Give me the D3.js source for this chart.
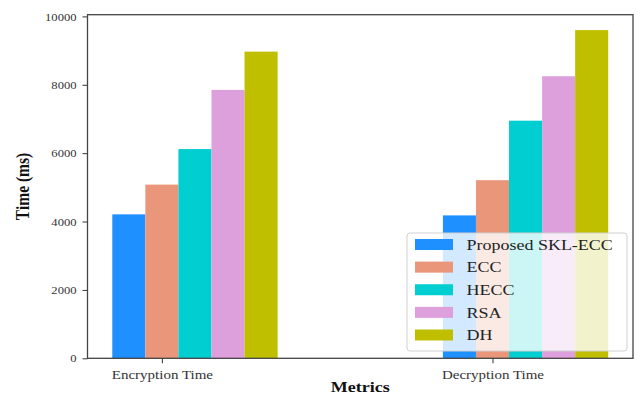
<!DOCTYPE html>
<html>
<head>
<meta charset="utf-8">
<script src="https://cdn.jsdelivr.net/npm/d3@7"></script>
<style>
  html, body { margin: 0; padding: 0; background: #fff; }
  svg { display: block; }
  text { font-family: "Liberation Serif", "Times New Roman", serif; }
</style>
</head>
<body>
<script>
// Execution time (ms) per scheme, for each metric
const metrics = ["Encryption Time", "Decryption Time"];
const schemes = ["Proposed SKL-ECC", "ECC", "HECC", "RSA", "DH"];
const colors = ["#1E90FF", "#E9967A", "#00CED1", "#DDA0DD", "#BFBF00"];
const proposedSklEcc = [4210, 4180];
const ecc = [5080, 5210];
const hecc = [6120, 6950];
const rsa = [7850, 8250];
const dh = [8970, 9600];
const yTicks = [0, 2000, 4000, 6000, 8000, 10000];

const seriesValues = [proposedSklEcc, ecc, hecc, rsa, dh];

const W = 641, H = 396;
const plot = { left: 87.5, right: 633, top: 14.7, bottom: 358.3 };
const barW = 0.1;      // bar width in category units
const sx = 1.2;        // horizontal text stretch

const svg = d3.select("body").append("svg")
  .attr("width", W).attr("height", H);

const x = d3.scaleLinear()
  .domain([-0.125, 1.525])
  .range([plot.left, plot.right]);
const y = d3.scaleLinear()
  .domain([0, 10050])
  .range([plot.bottom, plot.top]);

// Bars: one group per scheme, offset by its index
const bars = [];
seriesValues.forEach((vals, j) => {
  vals.forEach((v, i) => bars.push({ i, j, v }));
});
svg.append("g").selectAll("rect").data(bars).join("rect")
  .attr("x", d => x(d.i + d.j * barW - barW / 2))
  .attr("width", d => x(barW) - x(0))
  .attr("y", d => y(d.v))
  .attr("height", d => y(0) - y(d.v))
  .attr("fill", d => colors[d.j]);

// Axes
const yAxis = d3.axisLeft(y).tickValues(yTicks).tickSize(5).tickPadding(6)
  .tickFormat(d3.format("d"));
const gy = svg.append("g").attr("transform", `translate(${plot.left},0)`).call(yAxis);
gy.select(".domain").remove();
gy.selectAll("line").attr("stroke", "#333").attr("stroke-width", 1);
gy.selectAll("text")
  .attr("font-size", 10.5).attr("fill", "#333")
  .attr("dy", "0.35em")
  .attr("transform", function() {
    const t = d3.select(this);
    const tx = +t.attr("x");
    return `translate(${tx},0) scale(${sx},1) translate(${-tx},0)`;
  });

const xAxis = d3.axisBottom(x)
  .tickValues(metrics.map((m, i) => i + barW))
  .tickFormat((d, i) => metrics[i])
  .tickSize(5).tickPadding(7);
const gx = svg.append("g").attr("transform", `translate(0,${plot.bottom})`).call(xAxis);
gx.select(".domain").remove();
gx.selectAll("line").attr("stroke", "#333").attr("stroke-width", 1);
gx.selectAll("text")
  .attr("font-size", 12.5).attr("fill", "#333")
  .attr("transform", `scale(${sx},1)`);

// Legend (lower right, translucent box)
const leg = { x: 407, y: 233, w: 220, h: 118 };
const lg = svg.append("g");
lg.append("rect")
  .attr("x", leg.x).attr("y", leg.y)
  .attr("width", leg.w).attr("height", leg.h)
  .attr("rx", 3)
  .attr("fill", "#fff").attr("fill-opacity", 0.8)
  .attr("stroke", "#d0d0d0").attr("stroke-width", 1);
const rowY = d3.scaleLinear().domain([0, schemes.length - 1]).range([244.5, 335]);
const items = lg.selectAll("g.item").data(schemes).join("g").attr("class", "item");
items.append("rect")
  .attr("x", 415).attr("width", 38)
  .attr("y", (d, i) => rowY(i) - 5.5).attr("height", 11)
  .attr("fill", (d, i) => colors[i]);
items.append("text")
  .attr("font-size", 15).attr("fill", "#222")
  .attr("dy", "0.35em")
  .attr("transform", (d, i) => `translate(466.5,${rowY(i)}) scale(${sx},1)`)
  .text(d => d);

// Frame
svg.append("rect")
  .attr("x", plot.left).attr("y", plot.top)
  .attr("width", plot.right - plot.left)
  .attr("height", plot.bottom - plot.top)
  .attr("fill", "none").attr("stroke", "#444").attr("stroke-width", 1.3);

// Axis titles
svg.append("text")
  .attr("font-size", 15).attr("font-weight", "bold").attr("fill", "#111")
  .attr("text-anchor", "middle")
  .attr("transform", `translate(${(plot.left + plot.right) / 2},391.5) scale(${sx},1)`)
  .text("Metrics");
svg.append("text")
  .attr("font-size", 15.5).attr("font-weight", "bold").attr("fill", "#111")
  .attr("text-anchor", "middle").attr("dy", "0.35em")
  .attr("transform", `translate(22,${(plot.top + plot.bottom) / 2}) scale(${sx},1) rotate(-90)`)
  .text("Time (ms)");
</script>
</body>
</html>
